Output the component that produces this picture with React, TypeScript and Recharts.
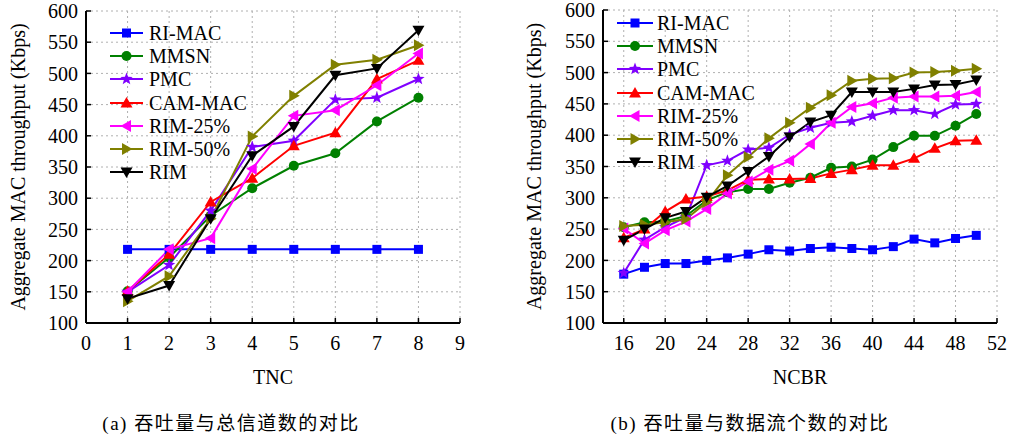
import React from 'react';
import { LineChart, Line, XAxis, YAxis, CartesianGrid } from 'recharts';

const FONT = "'Times New Roman', 'Liberation Serif', serif";
const CAPTION_FONT = "'Times New Roman', 'Liberation Serif', 'Noto Sans CJK SC', serif";

// series
const seriesNames = ['RI-MAC', 'MMSN', 'PMC', 'CAM-MAC', 'RIM-25%', 'RIM-50%', 'RIM'];
const seriesColors = ['#0000ff', '#008000', '#8000ff', '#ff0000', '#ff00ff', '#808000', '#000000'];
const seriesShapes = ['square', 'circle', 'star', 'up', 'left', 'right', 'down'];

// (a) throughput vs total number of channels
const tncValues = [1, 2, 3, 4, 5, 6, 7, 8];
const tncTicks = [0, 1, 2, 3, 4, 5, 6, 7, 8, 9];
const tncRiMac = [218, 218, 218, 218, 218, 218, 218, 218];
const tncMmsn = [151, 205, 272, 316, 352, 372, 423, 461];
const tncPmc = [150, 193, 280, 382, 392, 458, 461, 491];
const tncCamMac = [151, 210, 294, 332, 384, 405, 491, 521];
const tncRim25 = [150, 218, 236, 347, 432, 441, 481, 532];
const tncRim50 = [135, 175, 267, 399, 464, 514, 522, 545];
const tncRim = [139, 160, 267, 368, 415, 497, 508, 569];

// (b) throughput vs number of data flows
const ncbrValues = [16, 18, 20, 22, 24, 26, 28, 30, 32, 34, 36, 38, 40, 42, 44, 46, 48, 50];
const ncbrTicks = [16, 20, 24, 28, 32, 36, 40, 44, 48, 52];
const ncbrMinorTicks = [18, 22, 26, 30, 34, 38, 42, 46, 50];
const ncbrRiMac = [178, 189, 195, 195, 200, 204, 210, 217, 215, 219, 221, 219, 217, 222, 234, 228, 235, 240];
const ncbrMmsn = [253, 261, 262, 271, 296, 309, 314, 314, 324, 332, 348, 350, 361, 381, 399, 399, 415, 434];
const ncbrPmc = [180, 233, 253, 269, 352, 359, 377, 380, 401, 412, 420, 422, 431, 440, 440, 434, 449, 450];
const ncbrCamMac = [236, 250, 278, 298, 302, 312, 329, 330, 330, 331, 339, 345, 352, 352, 363, 379, 391, 392];
const ncbrRim25 = [251, 227, 248, 262, 282, 307, 326, 345, 359, 386, 420, 445, 451, 460, 462, 462, 463, 469];
const ncbrRim50 = [255, 257, 261, 266, 293, 336, 365, 395, 420, 444, 464, 487, 490, 491, 500, 501, 503, 506];
const ncbrRim = [232, 250, 268, 278, 301, 319, 342, 366, 397, 421, 432, 469, 469, 469, 474, 480, 481, 488];

const yTicks = [100, 150, 200, 250, 300, 350, 400, 450, 500, 550, 600];
const yMinorTicks = [125, 175, 225, 275, 325, 375, 425, 475, 525, 575];

const buildRows = (xs: number[], cols: number[][]) =>
  xs.map((x, i) => {
    const row: Record<string, number> = { x };
    seriesNames.forEach((n, j) => (row[n] = cols[j][i]));
    return row;
  });

const tncData = buildRows(tncValues, [tncRiMac, tncMmsn, tncPmc, tncCamMac, tncRim25, tncRim50, tncRim]);
const ncbrData = buildRows(ncbrValues, [ncbrRiMac, ncbrMmsn, ncbrPmc, ncbrCamMac, ncbrRim25, ncbrRim50, ncbrRim]);

function Marker({ shape, cx, cy, color }: { shape: string; cx: number; cy: number; color: string }) {
  const p = (pts: number[][]) => pts.map(([a, b]) => `${cx + a},${cy + b}`).join(' ');
  switch (shape) {
    case 'square':
      return <rect x={cx - 4.5} y={cy - 4.5} width={9} height={9} fill={color} />;
    case 'circle':
      return <circle cx={cx} cy={cy} r={5} fill={color} />;
    case 'star': {
      const pts: number[][] = [];
      for (let k = 0; k < 10; k++) {
        const r = k % 2 === 0 ? 6.5 : 2.7;
        const a = -Math.PI / 2 + (k * Math.PI) / 5;
        pts.push([r * Math.cos(a), r * Math.sin(a)]);
      }
      return <polygon points={p(pts)} fill={color} />;
    }
    case 'up':
      return <polygon points={p([[0, -6], [6, 4.5], [-6, 4.5]])} fill={color} />;
    case 'left':
      return <polygon points={p([[-6, 0], [4.5, -6], [4.5, 6]])} fill={color} />;
    case 'right':
      return <polygon points={p([[6, 0], [-4.5, -6], [-4.5, 6]])} fill={color} />;
    default:
      return <polygon points={p([[0, 6], [-6, -4.5], [6, -4.5]])} fill={color} />;
  }
}

function LegendBox({ left, top, lineLen, gap }: { left: number; top: number; lineLen: number; gap: number }) {
  return (
    <div style={{ position: 'absolute', left, top }}>
      {seriesNames.map((n, i) => (
        <div key={n} style={{ display: 'flex', alignItems: 'center', height: 23.3 }}>
          <svg width={lineLen} height={16} style={{ display: 'block' }}>
            <line x1={0} y1={8} x2={lineLen} y2={8} stroke={seriesColors[i]} strokeWidth={2} />
            <Marker shape={seriesShapes[i]} cx={lineLen / 2} cy={8} color={seriesColors[i]} />
          </svg>
          <span style={{ marginLeft: gap, fontFamily: FONT, fontSize: 20, lineHeight: '20px', color: '#000' }}>{n}</span>
        </div>
      ))}
    </div>
  );
}

const axisLine = { stroke: '#000', strokeWidth: 2 };
const tickLine = { stroke: '#000', strokeWidth: 1.5 };
const tickText = { fill: '#000', fontSize: 20, fontFamily: FONT };
const blank = () => '';

interface PanelProps {
  data: Record<string, number>[];
  xDomain: [number, number];
  xTicks: number[];
  xMinor?: number[];
  xTitle: string;
  width: number;
  top: number;
  right: number;
  yWidth: number;
}

function Panel({ data, xDomain, xTicks, xMinor, xTitle, width, top, right, yWidth }: PanelProps) {
  return (
    <LineChart width={width} height={400} data={data} margin={{ top, right, bottom: 0, left: 0 }}>
      <CartesianGrid stroke="#b0b0b0" strokeDasharray="2 3" />
      {xMinor && (
        <XAxis xAxisId="bm" dataKey="x" type="number" domain={xDomain} ticks={xMinor} allowDataOverflow
          height={0} axisLine={false} tickLine={tickLine} tickSize={-3} tickFormatter={blank} />
      )}
      <XAxis dataKey="x" type="number" domain={xDomain} ticks={xTicks} allowDataOverflow interval={0}
        height={77} axisLine={axisLine} tickLine={tickLine} tickSize={-5} tickMargin={18} tick={tickText}
        label={{ value: xTitle, position: 'insideBottom', offset: 16, fill: '#000', fontSize: 20, fontFamily: FONT }} />
      <XAxis xAxisId="t" orientation="top" dataKey="x" type="number" domain={xDomain} ticks={xTicks} allowDataOverflow
        height={0} axisLine={axisLine} tickLine={tickLine} tickSize={-5} tickFormatter={blank} />
      {xMinor && (
        <XAxis xAxisId="tm" orientation="top" dataKey="x" type="number" domain={xDomain} ticks={xMinor} allowDataOverflow
          height={0} axisLine={false} tickLine={tickLine} tickSize={-3} tickFormatter={blank} />
      )}
      <YAxis yAxisId="lm" type="number" domain={[100, 600]} ticks={yMinorTicks} allowDataOverflow
        width={0} axisLine={false} tickLine={tickLine} tickSize={-3} tickFormatter={blank} />
      <YAxis type="number" domain={[100, 600]} ticks={yTicks} allowDataOverflow interval={0}
        width={yWidth} axisLine={axisLine} tickLine={tickLine} tickSize={-5} tickMargin={13} tick={tickText}
        label={{ value: 'Aggregate MAC throughput (Kbps)', angle: -90, position: 'insideLeft', offset: 18,
          fill: '#000', fontSize: 20, fontFamily: FONT, style: { textAnchor: 'middle' } }} />
      <YAxis yAxisId="r" orientation="right" type="number" domain={[100, 600]} ticks={yTicks} allowDataOverflow
        width={0} axisLine={axisLine} tickLine={tickLine} tickSize={-5} tickFormatter={blank} />
      <YAxis yAxisId="rm" orientation="right" type="number" domain={[100, 600]} ticks={yMinorTicks} allowDataOverflow
        width={0} axisLine={false} tickLine={tickLine} tickSize={-3} tickFormatter={blank} />
      {seriesNames.map((n, i) => (
        <Line key={n} dataKey={n} stroke={seriesColors[i]} strokeWidth={2} isAnimationActive={false}
          dot={(p: any) => (
            <Marker key={`${n}-${p.index}`} shape={seriesShapes[i]} cx={p.cx} cy={p.cy} color={seriesColors[i]} />
          )} />
      ))}
    </LineChart>
  );
}

const captionStyle: React.CSSProperties = {
  position: 'absolute', top: 411, width: 400, textAlign: 'center', whiteSpace: 'pre',
  fontFamily: CAPTION_FONT, fontSize: 19, letterSpacing: 1.5, lineHeight: '26px', color: '#000',
};

export default function App() {
  return (
    <div style={{ position: 'absolute', left: 0, top: 0, width: 1010, height: 441, background: '#fff' }}>
      <div style={{ position: 'absolute', left: 0, top: 0 }}>
        <Panel data={tncData} xDomain={[0, 9]} xTicks={tncTicks} xTitle="TNC" width={480} top={11} right={20} yWidth={86} />
      </div>
      <div style={{ position: 'absolute', left: 516, top: 0 }}>
        <Panel data={ncbrData} xDomain={[14, 52]} xTicks={ncbrTicks} xMinor={ncbrMinorTicks} xTitle="NCBR"
          width={494} top={10} right={13} yWidth={87} />
      </div>
      <LegendBox left={110} top={21} lineLen={33} gap={6} />
      <LegendBox left={617} top={11} lineLen={36} gap={4} />
      <div style={{ ...captionStyle, left: 31 }}>(a) 吞吐量与总信道数的对比</div>
      <div style={{ ...captionStyle, left: 550 }}>(b) 吞吐量与数据流个数的对比</div>
    </div>
  );
}
